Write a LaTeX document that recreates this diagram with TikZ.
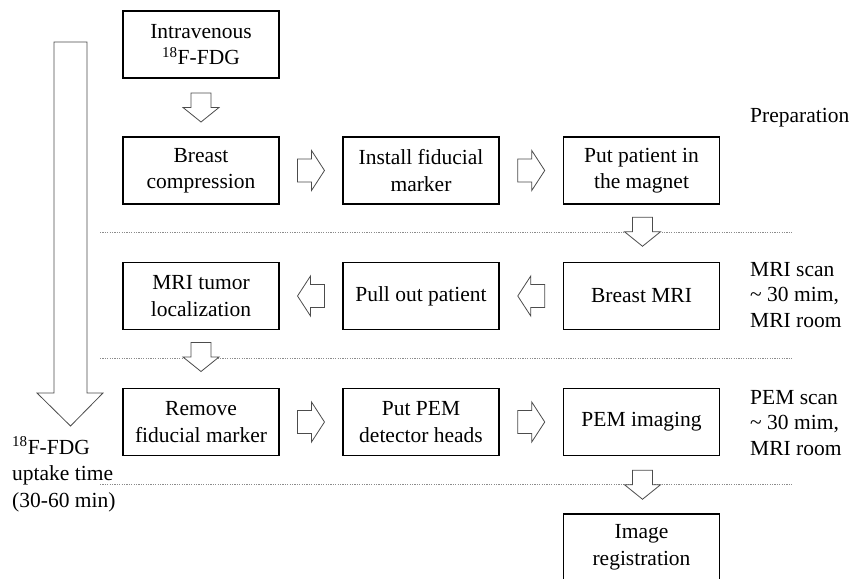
\documentclass[tikz,border=0pt]{standalone}
\usepackage{fontspec}
\setmainfont{Liberation Serif}
\usetikzlibrary{calc}
\tikzset{
  box/.style={draw=black, line width=1.2pt, minimum width=156pt, minimum height=67pt,
    align=center, inner sep=0pt, font=\fontsize{21.5}{26.5}\selectfont},
  blk/.style={draw=black!70, line width=0.8pt, fill=white, line join=miter},
  sepline/.style={draw=black!45, line width=0.6pt, dash pattern=on 1.2pt off 1.2pt},
  side/.style={align=left, anchor=base west, inner sep=0pt, font=\fontsize{21.5}{25.5}\selectfont},
  rblk/.pic={\path[blk] (-13.5,-11.5) -- (0.5,-11.5) -- (0.5,-20) -- (13.5,0) -- (0.5,20) -- (0.5,11.5) -- (-13.5,11.5) -- cycle;},
  lblk/.pic={\path[blk] (13.5,-11.5) -- (-0.5,-11.5) -- (-0.5,-20) -- (-13.5,0) -- (-0.5,20) -- (-0.5,11.5) -- (13.5,11.5) -- cycle;},
  dblk/.pic={\path[blk] (-10,-14.5) -- (-10,0) -- (-18,0) -- (0,14.5) -- (18,0) -- (10,0) -- (10,-14.5) -- cycle;},
}
\begin{document}
\begin{tikzpicture}[x=1pt,y=-1pt]
\useasboundingbox (0,0) rectangle (861,578);
\clip (0,0) rectangle (861,578);

% separators
\draw[sepline] (100,232) -- (792,232);
\draw[sepline] (100,358) -- (792,358);
\draw[sepline] (100,484) -- (792,484);

% boxes
\node[box] (iv)   at (201,44.5)  {Intravenous\\\textsuperscript{18}F-FDG};
\node[box] (bc)   at (201,170.5) {Breast\\compression};
\node[box] (ifm)  at (421,170.5) {Install fiducial\\marker};
\node[box] (pp)   at (641.5,170.5) {Put patient in\\the magnet};
\node[box] (bmri) at (641.5,296) {Breast MRI};
\node[box] (po)   at (421,296) {Pull out patient};
\node[box] (mtl)  at (201,296) {MRI tumor\\localization};
\node[box] (rfm)  at (201,422) {Remove\\fiducial marker};
\node[box] (ppem) at (421,422) {Put PEM\\detector heads};
\node[box] (pemi) at (641.5,422) {PEM imaging};
\node[box] (ir)   at (641.5,547.5) {Image\\registration};

% block arrows
\pic at ($(iv.south)!0.5!(bc.north)$) {dblk};
\pic at ($(bc.east)!0.5!(ifm.west)$) {rblk};
\pic at ($(ifm.east)!0.5!(pp.west)$) {rblk};
\pic at ($(pp.south)!0.5!(bmri.north)+(1,-1.5)$) {dblk};
\pic at ($(bmri.west)!0.5!(po.east)$) {lblk};
\pic at ($(po.west)!0.5!(mtl.east)$) {lblk};
\pic at ($(mtl.south)!0.5!(rfm.north)+(0,-2)$) {dblk};
\pic at ($(rfm.east)!0.5!(ppem.west)$) {rblk};
\pic at ($(ppem.east)!0.5!(pemi.west)$) {rblk};
\pic at ($(pemi.south)!0.5!(ir.north)+(1,0)$) {dblk};

% big uptake arrow
\path[blk] (54,42) -- (87,42) -- (87,393) -- (103,393) -- (70.5,426) -- (37,393) -- (54,393) -- cycle;

% side texts (base anchor = baseline of last line)
\node[side] (prep) at (750,122) {Preparation};
\node[side] (mris) at (750,327) {MRI scan\\\textasciitilde\ 30 mim,\\MRI room};
\node[side] (pems) at (750,455) {PEM scan\\\textasciitilde\ 30 mim,\\MRI room};
\node[side, font=\fontsize{21.5}{26.5}\selectfont] (upt) at (12,507) {\textsuperscript{18}F-FDG\\uptake time\\(30-60 min)};
\end{tikzpicture}
\end{document}
